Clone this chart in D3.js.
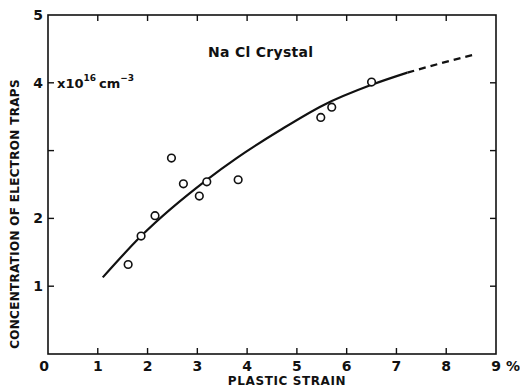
<!DOCTYPE html>
<html>
<head>
<meta charset="utf-8">
<script src="https://cdn.jsdelivr.net/npm/d3@7"></script>
<style>
  body { margin: 0; background: #fff; }
  text { font-family: "DejaVu Sans", sans-serif; fill: #111; }
</style>
</head>
<body>
<div id="chart"></div>
<script>
// measured points (strain %, concentration x1e16 cm^-3)
const strain = [1.61, 1.87, 2.15, 2.48, 2.72, 3.04, 3.19, 3.82, 5.48, 5.70, 6.50];
const conc   = [1.32, 1.74, 2.04, 2.89, 2.51, 2.33, 2.54, 2.57, 3.49, 3.64, 4.01];

// fitted curve, solid part and dashed extrapolation
const curveX  = [1.10, 1.87, 3.19, 3.79, 4.66, 5.53, 6.50, 7.22];
const curveY  = [1.13, 1.74, 2.57, 2.89, 3.30, 3.67, 3.97, 4.15];
const dashX   = [7.22, 7.90, 8.53];
const dashY   = [4.15, 4.29, 4.41];

const xTicks = [1, 2, 3, 4, 5, 6, 7, 8];
const yTicks = [1, 2, 3, 4];
const yLabels = {1: "1", 2: "2", 4: "4", 5: "5"};

const width = 520, height = 389;
const margin = {top: 15, right: 24, bottom: 35, left: 48};

const svg = d3.select("#chart").append("svg")
    .attr("width", width)
    .attr("height", height);

const x = d3.scaleLinear().domain([0, 9]).range([margin.left, width - margin.right]);
const y = d3.scaleLinear().domain([0, 5]).range([height - margin.bottom, margin.top]);

// frame
svg.append("rect")
    .attr("x", x(0)).attr("y", y(5))
    .attr("width", x(9) - x(0)).attr("height", y(0) - y(5))
    .attr("fill", "none").attr("stroke", "#111").attr("stroke-width", 1.6);

// inward ticks on all four sides
const tk = 6;
svg.append("g").selectAll("line").data(xTicks).enter().append("line")
    .attr("x1", d => x(d)).attr("x2", d => x(d))
    .attr("y1", y(0)).attr("y2", y(0) - tk)
    .attr("stroke", "#111").attr("stroke-width", 1.4);
svg.append("g").selectAll("line").data(xTicks).enter().append("line")
    .attr("x1", d => x(d)).attr("x2", d => x(d))
    .attr("y1", y(5)).attr("y2", y(5) + tk)
    .attr("stroke", "#111").attr("stroke-width", 1.4);
svg.append("g").selectAll("line").data(yTicks).enter().append("line")
    .attr("x1", x(0)).attr("x2", x(0) + tk)
    .attr("y1", d => y(d)).attr("y2", d => y(d))
    .attr("stroke", "#111").attr("stroke-width", 1.4);
svg.append("g").selectAll("line").data(yTicks).enter().append("line")
    .attr("x1", x(9)).attr("x2", x(9) - tk)
    .attr("y1", d => y(d)).attr("y2", d => y(d))
    .attr("stroke", "#111").attr("stroke-width", 1.4);

// tick labels
svg.append("g").selectAll("text").data([0].concat(xTicks)).enter().append("text")
    .attr("x", d => d === 0 ? x(0) - 4 : x(d))
    .attr("y", y(0) + 17)
    .attr("text-anchor", "middle")
    .style("font-size", "14px").style("font-weight", "bold")
    .text(d => d);
svg.append("text")
    .attr("x", x(9)).attr("y", y(0) + 17)
    .attr("text-anchor", "middle")
    .style("font-size", "14px").style("font-weight", "bold")
    .text("9");
svg.append("text")
    .attr("x", x(9) + 10).attr("y", y(0) + 17)
    .style("font-size", "14px").style("font-weight", "bold")
    .text("%");

svg.append("g").selectAll("text").data(Object.keys(yLabels).map(Number)).enter().append("text")
    .attr("x", x(0) - 5)
    .attr("y", d => y(d) + 5)
    .attr("text-anchor", "end")
    .style("font-size", "14px").style("font-weight", "bold")
    .text(d => yLabels[d]);

// axis titles
svg.append("text")
    .attr("x", 287).attr("y", 385)
    .attr("text-anchor", "middle")
    .style("font-size", "12px").style("font-weight", "bold").style("letter-spacing", "0.6px")
    .text("PLASTIC STRAIN");
svg.append("text")
    .attr("transform", "translate(19," + 214 + ") rotate(-90)")
    .attr("text-anchor", "middle")
    .style("font-size", "12px").style("font-weight", "bold").style("letter-spacing", "0.3px")
    .text("CONCENTRATION OF ELECTRON TRAPS");

// unit label
const unit = svg.append("text")
    .attr("x", 57).attr("y", y(4) + 5)
    .style("font-size", "13px").style("font-weight", "bold");
unit.append("tspan").text("x10");
unit.append("tspan").attr("dy", -7).style("font-size", "9px").text("16");
unit.append("tspan").attr("dy", 7).attr("dx", 3).text("cm");
unit.append("tspan").attr("dy", -7).style("font-size", "9px").text("−3");

svg.append("text")
    .attr("x", 208).attr("y", 57)
    .style("font-size", "14px").style("font-weight", "bold").style("letter-spacing", "0.3px")
    .text("Na Cl  Crystal");

// curve
const line = d3.line()
    .x(d => x(d[0])).y(d => y(d[1]))
    .curve(d3.curveMonotoneX);

svg.append("path")
    .datum(d3.zip(curveX, curveY))
    .attr("d", line)
    .attr("fill", "none").attr("stroke", "#111").attr("stroke-width", 2.2);
svg.append("path")
    .datum(d3.zip(dashX, dashY))
    .attr("d", line)
    .attr("fill", "none").attr("stroke", "#111").attr("stroke-width", 2.2)
    .attr("stroke-dasharray", "7,5");

// data points
svg.append("g").selectAll("circle").data(d3.zip(strain, conc)).enter().append("circle")
    .attr("cx", d => x(d[0])).attr("cy", d => y(d[1]))
    .attr("r", 3.8)
    .attr("fill", "#fff").attr("stroke", "#111").attr("stroke-width", 1.6);
</script>
</body>
</html>
